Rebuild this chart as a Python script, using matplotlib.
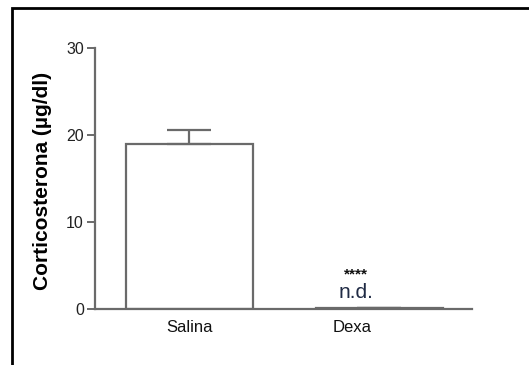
import matplotlib
matplotlib.use("Agg")
import matplotlib.pyplot as plt
from matplotlib.patches import Rectangle

groups = ["Salina", "Dexa"]
means = [19.0, 0.1]
errors = [1.6, 0.05]
annot_stars = "****"
annot_nd = "n.d."

plt.rcParams['font.family'] = ['Liberation Sans', 'DejaVu Sans']

fig = plt.figure(figsize=(5.29, 3.65), dpi=100)
fig.patch.set_facecolor('white')
# black frame around the picture (cut on right and bottom like the screenshot)
fig.patches.append(Rectangle((12 / 529, -0.05), 1.2, 1 - 8 / 365 + 0.05,
                             transform=fig.transFigure, fill=False,
                             edgecolor='black', linewidth=2.0))

ax = fig.add_axes([95 / 529, 1 - 309 / 365, (472 - 95) / 529, (309 - 48) / 365])
x = [0, 1]
edge = '#6a6a6a'
ax.bar(x, means, width=0.67, color='white', edgecolor=edge, linewidth=1.6, zorder=2)
ax.errorbar(x, means, yerr=[[0, 0], errors], fmt='none', ecolor=edge,
            elinewidth=1.6, capsize=15.5, capthick=1.6, zorder=3)

ax.set_xlim(-0.497, 1.487)
ax.set_ylim(0, 30)
ax.set_yticks([0, 10, 20, 30])
ax.set_xticks([0, 0.855])
ax.set_xticklabels(groups, fontsize=12)
ax.tick_params(axis='x', length=0, pad=8, colors='#111111')
ax.tick_params(axis='y', length=6, width=1.4, color=edge, pad=2,
               labelsize=11.5, labelcolor='#222222')

for side in ['top', 'right']:
    ax.spines[side].set_visible(False)
for side in ['left', 'bottom']:
    ax.spines[side].set_color(edge)
    ax.spines[side].set_linewidth(1.6)

ax.set_ylabel("Corticosterona (µg/dl)", fontsize=15, fontweight='bold')
ax.yaxis.set_label_coords(-0.114, 0.49)

ax.text(0.876, 3.95, annot_stars, ha='center', va='center', fontsize=11,
        fontweight='bold', color='#111111')
ax.text(0.876, 0.75, annot_nd, ha='center', va='bottom', fontsize=15,
        color='#1f2a44')

fig.savefig("out.png", dpi=100)
